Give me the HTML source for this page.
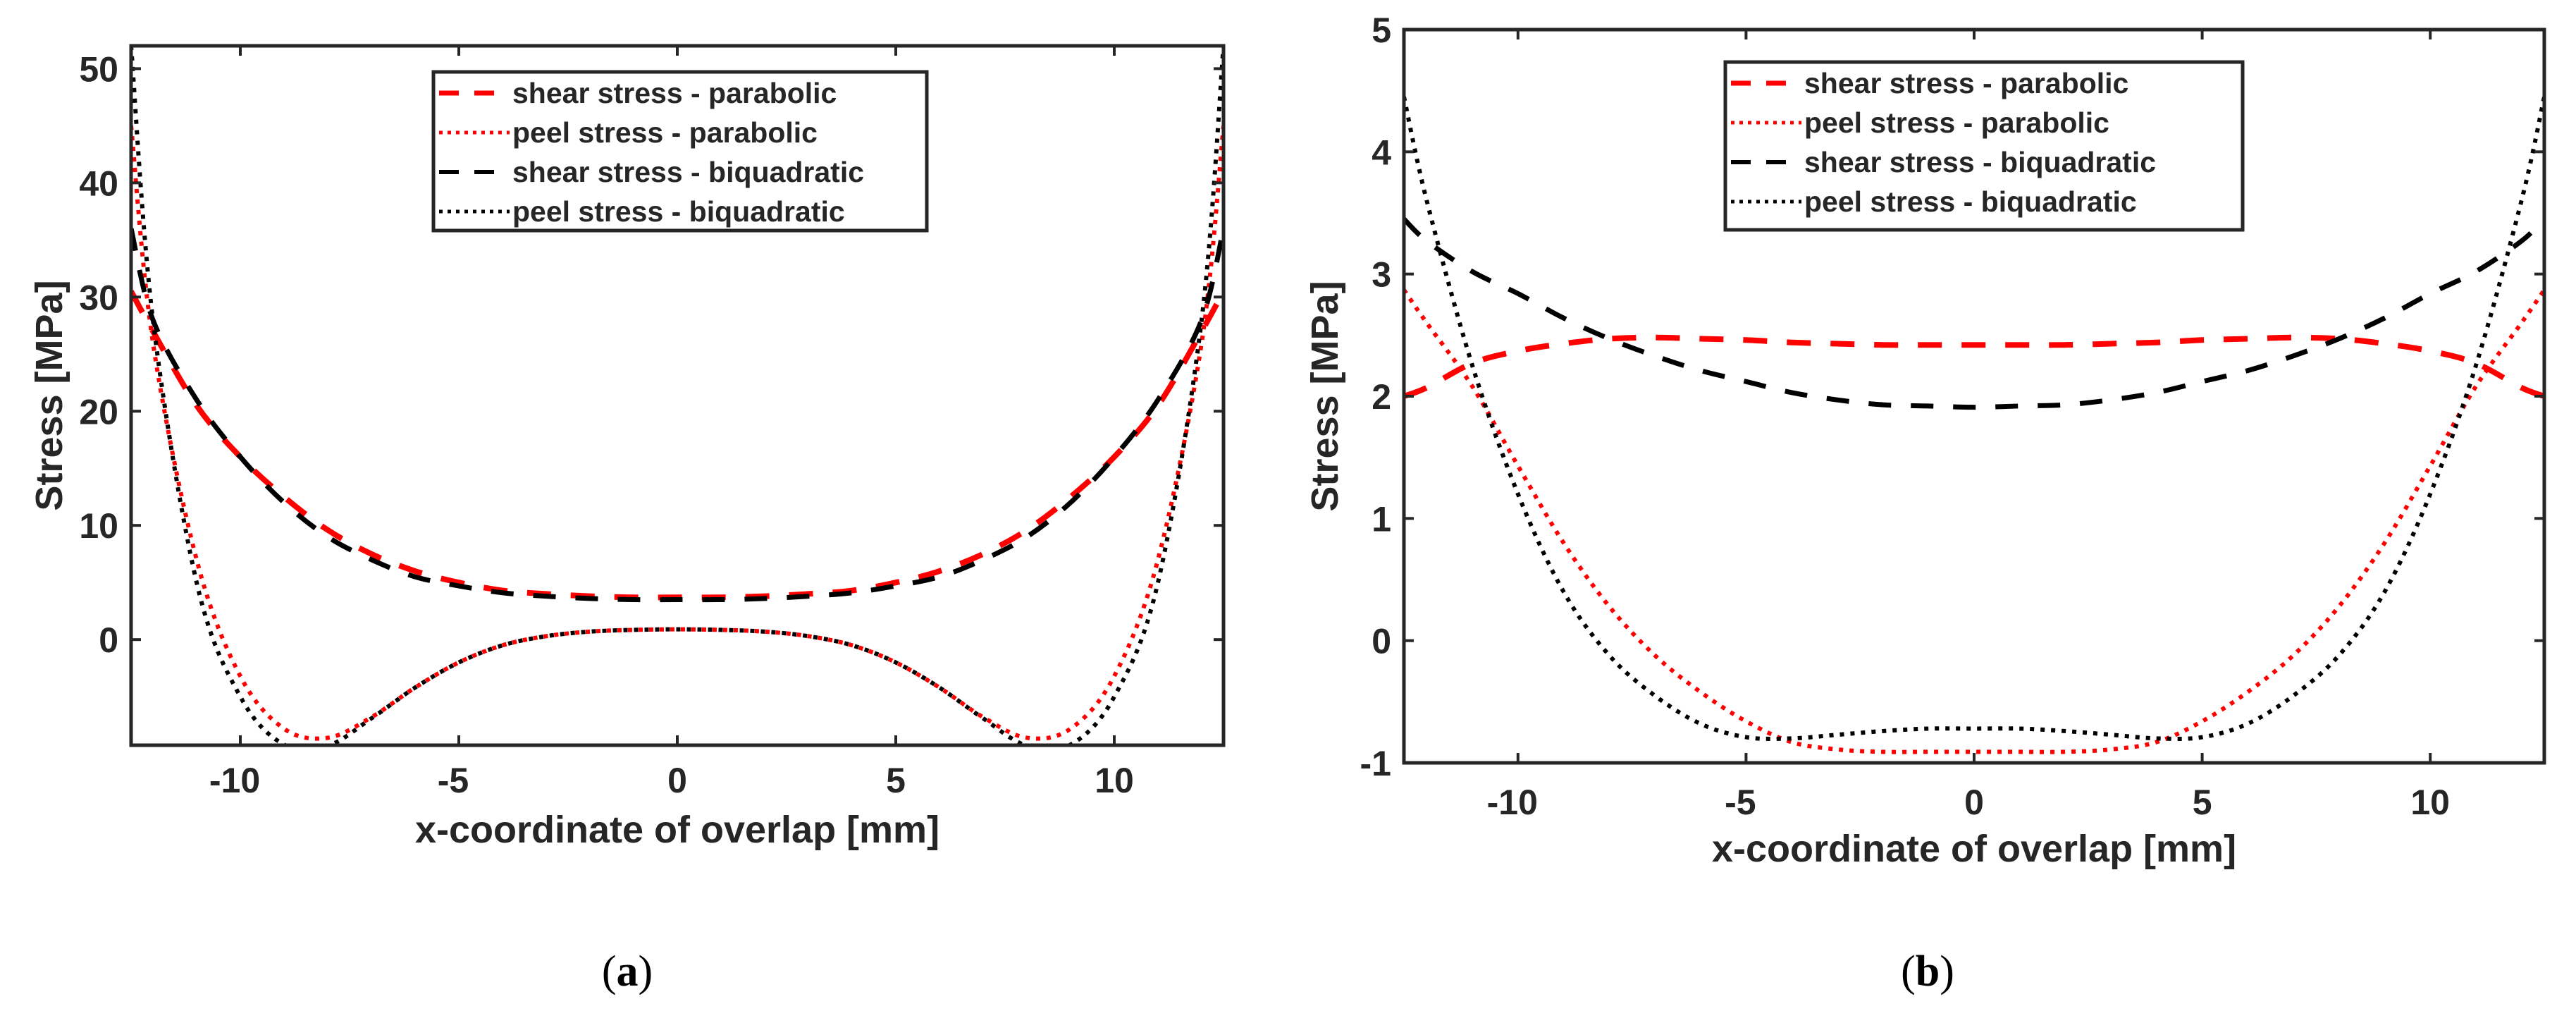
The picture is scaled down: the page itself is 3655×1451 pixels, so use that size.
<!DOCTYPE html>
<html><head><meta charset="utf-8">
<style>
html,body{margin:0;padding:0;background:#fff;}
svg{display:block;}
text{font-family:"Liberation Sans",sans-serif;font-weight:bold;fill:#262626;}
</style></head>
<body>
<svg id="fig" width="3655" height="1451" viewBox="0 0 3655 1451" xmlns="http://www.w3.org/2000/svg"></svg>
<script>
const xs = [-12.5,-12,-11,-10,-9,-8,-7,-6,-5,-4,-3,-2,-1,0,1,2,3,4,5,6,7,8,9,10,11,12,12.5];
// panel (a)
const aShearPar = [30.5,27,20.5,16,12.5,9.6,7.5,6,5,4.3,4,3.8,3.7,3.7,3.7,3.8,4,4.3,5,6,7.5,9.6,12.5,16,20.5,27,30.5];
const aPeelPar  = [45,26,7,-3.2,-7.8,-8.6,-6.8,-4.2,-2,-0.5,0.3,0.7,0.85,0.9,0.85,0.7,0.3,-0.5,-2,-4.2,-6.8,-8.6,-7.8,-3.2,7,26,45];
const aShearBiq = [36,28,21,16,12,9,7,5.5,4.7,4.1,3.8,3.6,3.5,3.5,3.5,3.6,3.8,4.1,4.7,5.5,7,9,12,16,21,28,36];
const aPeelBiq  = [52,28,5,-5,-9.2,-9.3,-6.9,-4.2,-2,-0.5,0.3,0.7,0.85,0.9,0.85,0.7,0.3,-0.5,-2,-4.2,-6.9,-9.3,-9.2,-5,5,28,52];
const aYTicks = [0,10,20,30,40,50];
// panel (b)
const bShearPar = [2.0,2.07,2.27,2.37,2.43,2.47,2.48,2.47,2.46,2.44,2.43,2.42,2.42,2.42,2.42,2.42,2.43,2.44,2.46,2.47,2.48,2.47,2.43,2.37,2.27,2.07,2.0];
const bPeelPar  = [2.87,2.6,2.08,1.43,0.8,0.28,-0.12,-0.42,-0.66,-0.83,-0.89,-0.91,-0.91,-0.91,-0.91,-0.91,-0.89,-0.83,-0.66,-0.42,-0.12,0.28,0.8,1.43,2.08,2.6,2.87];
const bShearBiq = [3.45,3.27,3.02,2.84,2.64,2.47,2.33,2.21,2.12,2.03,1.97,1.93,1.92,1.91,1.92,1.93,1.97,2.03,2.12,2.21,2.33,2.47,2.64,2.84,3.02,3.27,3.45];
const bPeelBiq  = [4.45,3.6,2.25,1.2,0.4,-0.12,-0.45,-0.68,-0.79,-0.8,-0.77,-0.74,-0.72,-0.72,-0.72,-0.74,-0.77,-0.8,-0.79,-0.68,-0.45,-0.12,0.4,1.2,2.25,3.6,4.45];
const bYTicks = [-1,0,1,2,3,4,5];
const xTicks = [-10,-5,0,5,10];
const legendLabels = ["shear stress - parabolic","peel stress - parabolic","shear stress - biquadratic","peel stress - biquadratic"];

const NS="http://www.w3.org/2000/svg";
const svg=document.getElementById('fig');
function mk(tag,attrs,parent){const e=document.createElementNS(NS,tag);for(const k in attrs)e.setAttribute(k,attrs[k]);(parent||svg).appendChild(e);return e;}

const styles=[
 {stroke:"#ff0000",w:8,dash:"34 28"},
 {stroke:"#ff0000",w:6,dash:"6 9"},
 {stroke:"#000000",w:7,dash:"32 28"},
 {stroke:"#000000",w:6,dash:"6 9"}
];

function panel(cfg){
  const g=mk('g',{});
  
  
  const L=cfg.L,R=cfg.R,T=cfg.T,B=cfg.B;
  const sx=v=>L+(v+12.5)/25*(R-L);
  const sy=v=>B-(v-cfg.ymin)/(cfg.ymax-cfg.ymin)*(B-T);
  const clipId=cfg.name+'-clip';
  const cp=mk('clipPath',{id:clipId},g);mk('rect',{x:L,y:T,width:R-L,height:B-T},cp);
  cfg.series.forEach((ys,i)=>{
    const pts=xs.map((x,j)=>[sx(x),sy(ys[j])]);
    let d='M'+pts[0][0]+','+pts[0][1];
    for(let j=0;j<pts.length-1;j++){
      const p0=pts[Math.max(0,j-1)],p1=pts[j],p2=pts[j+1],p3=pts[Math.min(pts.length-1,j+2)];
      const c1=[p1[0]+(p2[0]-p0[0])/6,p1[1]+(p2[1]-p0[1])/6];
      const c2=[p2[0]-(p3[0]-p1[0])/6,p2[1]-(p3[1]-p1[1])/6];
      d+=` C${c1[0]},${c1[1]} ${c2[0]},${c2[1]} ${p2[0]},${p2[1]}`;
    }
    const s=styles[i];
    const p=mk('path',{d:d,fill:'none',stroke:s.stroke,'stroke-width':s.w,'stroke-dasharray':s.dash,'clip-path':`url(#${clipId})`},g);
    
    
  });
  const box=mk('rect',{x:L,y:T,width:R-L,height:B-T,fill:'none',stroke:'#262626','stroke-width':5},g);
  
  
  xTicks.forEach(v=>{
    const x=sx(v);
    mk('line',{x1:x,y1:B,x2:x,y2:B-14,stroke:'#262626','stroke-width':4},g);
    mk('line',{x1:x,y1:T,x2:x,y2:T+14,stroke:'#262626','stroke-width':4},g);
    const t=mk('text',{x:x-(v<0?8:0),y:cfg.xtickY,'text-anchor':'middle','font-size':50},g);
    t.textContent=String(v);
    
    
  });
  cfg.yTicks.forEach(v=>{
    const y=sy(v);
    mk('line',{x1:L,y1:y,x2:L+14,y2:y,stroke:'#262626','stroke-width':4},g);
    mk('line',{x1:R,y1:y,x2:R-14,y2:y,stroke:'#262626','stroke-width':4},g);
    const t=mk('text',{x:L-18,y:y+18,'text-anchor':'end','font-size':50},g);
    t.textContent=String(v);
    
    
  });
  const xl=mk('text',{x:(L+R)/2,y:cfg.xlabelY,'text-anchor':'middle','font-size':54},g);
  xl.textContent='x-coordinate of overlap [mm]';
  
  
  const yl=mk('text',{x:0,y:0,'text-anchor':'middle','font-size':54,transform:`translate(${cfg.ylabelX},${(T+B)/2}) rotate(-90)`},g);
  yl.textContent='Stress [MPa]';
  
  
  const lg=mk('g',{},g);
  
  
  mk('rect',{x:cfg.lx,y:cfg.ly,width:cfg.lw,height:cfg.lh,fill:'#fff',stroke:'#262626','stroke-width':5},lg);
  legendLabels.forEach((lab,i)=>{
    const yy=cfg.ly+30+i*56;
    const s=styles[i];
    mk('line',{x1:cfg.lx+8,y1:yy,x2:cfg.lx+108,y2:yy,stroke:s.stroke,'stroke-width':s.w-1,'stroke-dasharray':i%2?'5 7':'28 22'},lg);
    const t=mk('text',{x:cfg.lx+112,y:yy+14,'font-size':41},lg);
    t.textContent=lab;
    
    
  });
  const cap=mk('text',{x:cfg.capX,y:1398,'text-anchor':'middle','font-size':62,style:'font-family:"Liberation Serif",serif;font-weight:normal;fill:#000'},g);
  cap.innerHTML='(<tspan font-weight="bold">'+cfg.cap+'</tspan>)';
  
  
}

panel({name:'panel-a',L:186,R:1736,T:65,B:1057,ymin:-9.25,ymax:52,yTicks:aYTicks,
  series:[aShearPar,aPeelPar,aShearBiq,aPeelBiq],xtickY:1124,xlabelY:1195,ylabelX:88,
  lx:615,ly:102,lw:700,lh:225,capX:890,cap:'a'});
panel({name:'panel-b',L:1992,R:3610,T:42,B:1082,ymin:-1,ymax:5,yTicks:bYTicks,
  series:[bShearPar,bPeelPar,bShearBiq,bPeelBiq],xtickY:1155,xlabelY:1222,ylabelX:1898,
  lx:2448,ly:88,lw:734,lh:238,capX:2735,cap:'b'});
</script>
</body></html>
